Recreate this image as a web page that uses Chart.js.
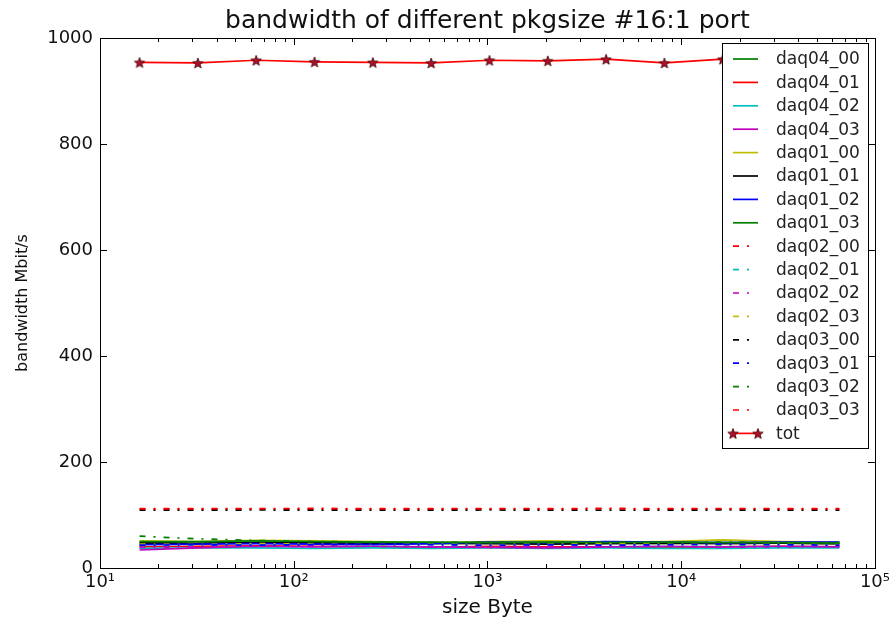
<!DOCTYPE html>
<html>
<head>
<meta charset="utf-8">
<script src="https://cdn.jsdelivr.net/npm/chart.js@4.4.1/dist/chart.umd.min.js"></script>
<style>
  html, body { margin: 0; padding: 0; background: #fff; }
  #wrap { width: 894px; height: 625px; position: relative; }
</style>
</head>
<body>
<div id="wrap"><canvas id="chart"></canvas></div>
<script>
// packet sizes (Byte) on the log x axis
const sizes = [16, 32, 64, 128, 256, 512, 1024, 2048, 4096, 8192, 16384, 32768, 65536];

// bandwidth per port, Mbit/s
const daq04_00 = [48, 47, 49, 48, 47, 46, 47, 48, 47, 46, 48, 47, 46];
const daq04_01 = [40, 41, 42, 41, 40, 39, 41, 40, 40, 39, 40, 41, 40];
const daq04_02 = [37, 38, 38, 37, 38, 37, 38, 37, 38, 37, 37, 38, 38];
const daq04_03 = [34, 38, 41, 40, 41, 40, 39, 38, 40, 41, 40, 41, 40];
const daq01_00 = [51, 50, 52, 51, 50, 48, 50, 51, 49, 50, 53, 50, 49];
const daq01_01 = [47, 46, 48, 47, 46, 47, 46, 45, 46, 47, 46, 47, 46];
const daq01_02 = [44, 45, 46, 45, 44, 46, 49, 48, 50, 49, 48, 49, 49];
const daq01_03 = [50, 50, 51, 50, 49, 49, 48, 49, 48, 49, 48, 48, 47];
const daq02_00 = [111, 111, 111.5, 111, 111, 111, 111.5, 111, 111.5, 111, 111.5, 111, 111];
const daq02_01 = [42, 43, 42, 43, 42, 41, 42, 43, 42, 41, 42, 43, 42];
const daq02_02 = [39, 40, 41, 42, 41, 40, 39, 41, 40, 41, 39, 40, 41];
const daq02_03 = [45, 44, 46, 45, 44, 45, 44, 45, 46, 45, 44, 45, 44];
const daq03_00 = [109, 109, 109.5, 109, 109, 109, 109.5, 109, 109, 109, 109.5, 109, 109];
const daq03_01 = [43, 44, 43, 44, 45, 44, 43, 44, 43, 44, 45, 44, 43];
const daq03_02 = [60, 55, 52, 50, 49, 48, 49, 48, 49, 48, 49, 48, 48];
const daq03_03 = [112, 112, 112, 112.5, 112, 112, 112, 112, 112.5, 112, 112, 112, 112];
const tot = [954, 953, 958, 955, 954, 953, 958, 957, 960, 953, 960, 958, 957];

const seriesNames = ['daq04_00', 'daq04_01', 'daq04_02', 'daq04_03',
                     'daq01_00', 'daq01_01', 'daq01_02', 'daq01_03',
                     'daq02_00', 'daq02_01', 'daq02_02', 'daq02_03',
                     'daq03_00', 'daq03_01', 'daq03_02', 'daq03_03', 'tot'];
const seriesValues = [daq04_00, daq04_01, daq04_02, daq04_03,
                      daq01_00, daq01_01, daq01_02, daq01_03,
                      daq02_00, daq02_01, daq02_02, daq02_03,
                      daq03_00, daq03_01, daq03_02, daq03_03, tot];
const seriesColors = ['#008000', '#ff0000', '#00bfbf', '#bf00bf',
                      '#bfbf00', '#000000', '#0000ff', '#008000',
                      '#ff0000', '#00bfbf', '#bf00bf', '#bfbf00',
                      '#000000', '#0000ff', '#008000', '#ff0000', '#ff0000'];
const seriesDashDot = [false, false, false, false, false, false, false, false,
                       true, true, true, true, true, true, true, true, false];

const xTicks = [10, 100, 1000, 10000, 100000];
const xTickLabels = ['10\u00b9', '10\u00b2', '10\u00b3', '10\u2074', '10\u2075'];
const yTicks = [0, 200, 400, 600, 800, 1000];

const FONT = "'DejaVu Sans', sans-serif";
const DASHDOT = [6, 8, 2, 8];

// filled five point star, like matplotlib's '*' marker
function makeStar(r, fill, stroke) {
    const s = Math.ceil(r * 2 + 3);
    const c = document.createElement('canvas');
    c.width = c.height = s;
    const g = c.getContext('2d');
    g.beginPath();
    for (let i = 0; i < 10; i++) {
        const rad = i % 2 === 0 ? r : r * 0.42;
        const a = -Math.PI / 2 + i * Math.PI / 5;
        const px = s / 2 + rad * Math.cos(a), py = s / 2 + 0.6 + rad * Math.sin(a);
        if (i === 0) g.moveTo(px, py); else g.lineTo(px, py);
    }
    g.closePath();
    g.fillStyle = fill;
    g.fill();
    g.lineWidth = 0.8;
    g.strokeStyle = stroke;
    g.stroke();
    return c;
}
const star = makeStar(5.5, '#b0102c', '#3a0000');

const datasets = seriesNames.map((name, i) => ({
    label: name,
    data: sizes.map((s, k) => ({ x: s, y: seriesValues[i][k] })),
    borderColor: seriesColors[i],
    backgroundColor: seriesColors[i],
    borderWidth: 1.7,
    borderDash: seriesDashDot[i] ? DASHDOT : [],
    pointRadius: name === 'tot' ? 5 : 0,
    pointStyle: name === 'tot' ? star : 'circle',
    tension: 0,
    fill: false,
    order: seriesNames.length - i // later series drawn on top, as in matplotlib
}));

// frame, inward ticks on all four sides, and the legend box inside the plot
const framePlugin = {
    id: 'framePlugin',
    afterDraw(chart) {
        const { ctx, chartArea: a, scales } = chart;
        const xs = scales.x, ys = scales.y;
        ctx.save();
        ctx.strokeStyle = '#000';
        ctx.lineWidth = 1;

        const tick = (x1, y1, x2, y2) => {
            ctx.beginPath();
            ctx.moveTo(x1, y1);
            ctx.lineTo(x2, y2);
            ctx.stroke();
        };
        // x major + minor
        for (let d = 10; d <= 100000; d *= 10) {
            const px = Math.round(xs.getPixelForValue(d)) + 0.5;
            tick(px, a.bottom, px, a.bottom - 7);
            tick(px, a.top, px, a.top + 7);
            if (d < 100000) {
                for (let m = 2; m <= 9; m++) {
                    const mx = Math.round(xs.getPixelForValue(d * m)) + 0.5;
                    tick(mx, a.bottom, mx, a.bottom - 4);
                    tick(mx, a.top, mx, a.top + 4);
                }
            }
        }
        // y major
        yTicks.forEach(v => {
            const py = Math.round(ys.getPixelForValue(v)) + 0.5;
            tick(a.left, py, a.left + 7, py);
            tick(a.right, py, a.right - 7, py);
        });
        ctx.strokeRect(Math.round(a.left) + 0.5, Math.round(a.top) + 0.5,
                       Math.round(a.right - a.left), Math.round(a.bottom - a.top));

        // legend
        const lx = 722, ly = 43, lw = 146, lh = 405;
        ctx.fillStyle = '#fff';
        ctx.fillRect(lx, ly, lw, lh);
        ctx.strokeStyle = '#000';
        ctx.strokeRect(lx + 0.5, ly + 0.5, lw, lh);
        ctx.font = '17px ' + FONT;
        ctx.textBaseline = 'middle';
        ctx.textAlign = 'left';
        seriesNames.forEach((name, i) => {
            const cy = 59 + i * 23.4;
            ctx.strokeStyle = seriesColors[i];
            ctx.lineWidth = 1.7;
            ctx.setLineDash(seriesDashDot[i] ? DASHDOT : []);
            ctx.beginPath();
            ctx.moveTo(733, cy);
            ctx.lineTo(seriesDashDot[i] ? 750 : 758, cy);
            ctx.stroke();
            ctx.setLineDash([]);
            if (name === 'tot') {
                ctx.drawImage(star, 733 - star.width / 2, cy - star.height / 2);
                ctx.drawImage(star, 758 - star.width / 2, cy - star.height / 2);
            }
            ctx.fillStyle = '#222';
            ctx.fillText(name, 776, cy + 1);
        });
        ctx.restore();
    }
};

new Chart(document.getElementById('chart'), {
    type: 'line',
    data: { datasets },
    options: {
        responsive: true,
        maintainAspectRatio: false,
        animation: false,
        layout: { padding: { left: 0, right: 17, top: 0, bottom: 0 } },
        plugins: {
            legend: { display: false },
            tooltip: { enabled: false },
            title: {
                display: true,
                fullSize: false,
                text: 'bandwidth of different pkgsize #16:1 port',
                color: '#111',
                font: { family: FONT, size: 25, weight: 'normal' },
                padding: { top: 6, bottom: 2 }
            }
        },
        scales: {
            x: {
                type: 'logarithmic',
                min: 10,
                max: 100000,
                grid: { display: false, drawTicks: false },
                border: { display: false },
                afterBuildTicks: (scale) => { scale.ticks = xTicks.map(v => ({ value: v })); },
                afterFit: (scale) => { scale.height = 57; },
                ticks: {
                    color: '#111',
                    padding: 4,
                    maxRotation: 0,
                    autoSkip: false,
                    font: { family: FONT, size: 18 },
                    callback: (v) => xTickLabels[xTicks.indexOf(v)] ?? ''
                },
                title: {
                    display: true,
                    text: 'size Byte',
                    color: '#111',
                    font: { family: FONT, size: 20 },
                    padding: { top: 0, bottom: 5 }
                }
            },
            y: {
                min: 0,
                max: 1000,
                grid: { display: false, drawTicks: false },
                border: { display: false },
                afterBuildTicks: (scale) => { scale.ticks = yTicks.map(v => ({ value: v })); },
                afterFit: (scale) => { scale.width = 100; },
                ticks: {
                    color: '#111',
                    padding: 7,
                    font: { family: FONT, size: 18 },
                    callback: (v) => String(v)
                },
                title: {
                    display: true,
                    text: 'bandwidth Mbit/s',
                    color: '#111',
                    font: { family: FONT, size: 16 },
                    padding: { top: 13, bottom: 0 }
                }
            }
        }
    },
    plugins: [framePlugin]
});
</script>
</body>
</html>
